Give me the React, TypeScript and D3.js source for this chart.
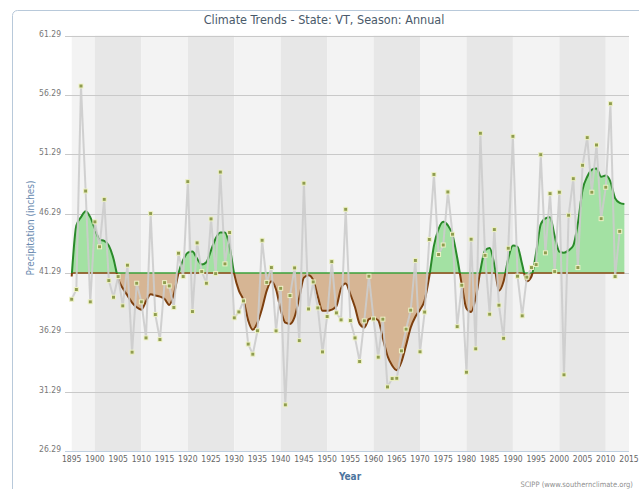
import React from "react";
import * as d3 from "d3";

const startYear = 1895;
const precip: number[] = [
  39.08, 39.9, 57.05, 48.2, 38.86, 45.6, 43.5, 47.5, 40.65, 39.25,
  40.99, 38.52, 41.95, 34.62, 40.43, 38.86, 35.82, 46.3, 37.79, 35.68,
  40.48, 40.2, 38.38, 42.96, 40.99, 48.99, 38.04, 43.83, 41.41, 40.43,
  45.85, 41.24, 49.8, 42.06, 44.7, 37.51, 38.01, 38.94, 35.3, 34.45,
  36.42, 44.05, 40.5, 41.75, 36.41, 40.0, 30.18, 39.39, 41.72, 35.59,
  48.86, 38.26, 40.54, 38.35, 34.64, 37.62, 42.25, 37.93, 37.34, 46.66,
  37.28, 35.82, 33.83, 37.26, 41.02, 37.42, 34.2, 37.4, 31.69, 32.39,
  32.42, 34.73, 36.56, 38.16, 42.35, 34.65, 38.0, 44.12, 49.6, 42.85,
  43.65, 48.12, 44.56, 36.77, 40.26, 32.93, 44.14, 34.9, 53.07, 42.78,
  37.82, 44.95, 38.58, 35.79, 43.38, 52.81, 41.02, 37.68, 40.94, 41.75,
  42.0, 51.26, 42.99, 47.98, 41.41, 48.1, 32.71, 46.16, 49.24, 41.75,
  50.37, 52.7, 48.1, 52.08, 45.87, 48.52, 55.56, 40.99, 44.8,
];
const smooth: number[] = [
  41.0, 45.3, 46.0, 46.5, 46.0, 45.0, 44.1, 44.0, 43.6, 42.5,
  40.8, 40.0, 39.4, 38.8, 38.4, 38.2, 38.9, 39.5, 39.4, 39.3,
  39.1, 38.6, 39.5, 41.3, 42.4, 43.0, 43.1, 42.5, 42.0, 42.2,
  43.2, 44.2, 44.7, 44.7, 43.5, 41.2, 39.8, 39.0, 37.3, 36.5,
  37.1, 38.3, 39.8, 40.6, 39.9, 38.2, 37.1, 37.0, 37.6, 39.2,
  40.9, 41.1, 40.7, 39.3, 38.1, 38.1, 38.2, 38.5, 40.0, 40.4,
  39.5, 38.4, 37.0, 36.7, 37.4, 37.5, 37.3, 35.8, 34.3, 33.5,
  33.1, 33.8, 35.2, 36.7, 37.6, 38.2, 39.0, 41.0, 43.6, 45.0,
  45.6, 45.3, 44.5, 42.6, 40.3, 38.3, 38.0, 39.2, 41.5, 43.2,
  43.4, 42.0, 39.8, 40.6, 42.5, 43.6, 43.5, 42.0, 40.6, 41.0,
  43.0, 45.4, 45.9, 46.0, 44.4, 43.1, 43.0, 43.2, 43.6, 45.5,
  48.3, 49.4, 50.0, 50.1, 49.4, 49.5, 49.0, 47.6, 47.2, 47.1,
];
const meanValue = 41.29;
const yTicks = [26.29, 31.29, 36.29, 41.29, 46.29, 51.29, 56.29, 61.29];
const xTicks = [1895, 1900, 1905, 1910, 1915, 1920, 1925, 1930, 1935, 1940, 1945, 1950, 1955, 1960, 1965, 1970, 1975, 1980, 1985, 1990, 1995, 2000, 2005, 2010, 2015];
const bandEdges = [1895, 1900, 1910, 1920, 1930, 1940, 1950, 1960, 1970, 1980, 1990, 2000, 2010, 2015];

const titleText = "Climate Trends - State: VT, Season: Annual";
const FONT = "'DejaVu Sans Condensed', 'Liberation Sans Narrow', 'Liberation Sans', sans-serif";

export default function App() {
  const W = 639, H = 489;
  const x = d3.scaleLinear().domain([1895, 2015]).range([71.7, 629]);
  const y = d3.scaleLinear().domain([26.29, 61.29]).range([451, 35.7]);
  const rows = precip.map((v, i) => ({ yr: startYear + i, v }));
  const srows = smooth.map((v, i) => ({ yr: startYear + i, v }));
  const y0 = y(meanValue);

  const line = d3.line<any>().x((d) => x(d.yr)).y((d) => y(d.v));
  const sline = d3.line<any>().x((d) => x(d.yr)).y((d) => y(d.v)).curve(d3.curveMonotoneX);
  const sarea = d3.area<any>().x((d) => x(d.yr)).y0(y0).y1((d) => y(d.v)).curve(d3.curveMonotoneX);

  const segs: { a: number; b: number; above: boolean }[] = [];
  let segStart = srows[0].yr;
  let above = srows[0].v > meanValue;
  for (let i = 1; i < srows.length; i++) {
    const p = srows[i - 1], q = srows[i];
    const pa = p.v > meanValue, qa = q.v > meanValue;
    if (pa !== qa) {
      const t = (meanValue - p.v) / (q.v - p.v);
      const cx = p.yr + t * (q.yr - p.yr);
      segs.push({ a: segStart, b: cx, above });
      segStart = cx;
      above = qa;
    }
  }
  segs.push({ a: segStart, b: srows[srows.length - 1].yr, above });

  const bands = bandEdges.slice(0, -1).map((e, i) => ({ a: e, b: bandEdges[i + 1], dark: i % 2 === 1 }));

  return (
    <svg width={W} height={H} style={{ position: "absolute", left: 0, top: 0, background: "#fff" }} fontFamily={FONT}>
      <defs>
        <clipPath id="clipAbove"><rect x={0} y={0} width={W} height={y0} /></clipPath>
        <clipPath id="clipBelow"><rect x={0} y={y0} width={W} height={H - y0} /></clipPath>
      </defs>
      <rect x={12.5} y={10.5} width={640} height={500} rx={5} fill="#fff" stroke="#b8c9da" strokeWidth={1} />
      {bands.map((b, i) => (
        <rect key={i} x={x(b.a)} y={y(61.29)} width={x(b.b) - x(b.a)} height={y(26.29) - y(61.29)} fill={b.dark ? "#e7e7e7" : "#f3f3f3"} />
      ))}
      {yTicks.map((t) => (
        <g key={t}>
          <line x1={65} x2={629} y1={Math.round(y(t)) + 0.5} y2={Math.round(y(t)) + 0.5} stroke={t === 26.29 ? "#c0d0e0" : "#c9c9c9"} strokeWidth={1} />
          <text x={61} y={y(t) + 1} textAnchor="end" fontSize={8.5} fill="#777">{t.toFixed(2)}</text>
        </g>
      ))}
      {xTicks.map((t) => (
        <text key={t} x={x(t)} y={462} textAnchor="middle" fontSize={8.5} fill="#666">{t}</text>
      ))}
      <path d={sarea(srows) || ""} fill="#a3e1a3" clipPath="url(#clipAbove)" />
      <path d={sarea(srows) || ""} fill="#d6b594" clipPath="url(#clipBelow)" />
      {segs.map((s, i) => (
        <line key={i} x1={x(s.a)} x2={x(s.b)} y1={y0} y2={y0} stroke={s.above ? "#8a4a12" : "#3aa23a"} strokeWidth={1.5} />
      ))}
      <path d={sline(srows) || ""} fill="none" stroke="#2a8a2a" strokeWidth={2} clipPath="url(#clipAbove)" />
      <path d={sline(srows) || ""} fill="none" stroke="#7d3f0e" strokeWidth={2} clipPath="url(#clipBelow)" />
      <path d={line(rows) || ""} fill="none" stroke="#cccccc" strokeWidth={2} strokeOpacity={0.9} />
      {rows.map((d) => (
        <rect key={d.yr} x={x(d.yr) - 2} y={y(d.v) - 2} width={4} height={4} fill="#8f9c4f" stroke="#eef2c6" strokeWidth={1} />
      ))}
      <text x={324} y={24} textAnchor="middle" fontSize={12.5} fill="#4a5a6a">{titleText}</text>
      <text x={350} y={480} textAnchor="middle" fontSize={10} fontWeight="bold" fill="#4d759e">Year</text>
      <text transform="translate(34,228) rotate(-90)" textAnchor="middle" fontSize={10} fill="#6a8ab0">Precipitation (inches)</text>
      <text x={633} y={487} textAnchor="end" fontSize={7.5} fill="#909090">SCIPP (www.southernclimate.org)</text>
    </svg>
  );
}
